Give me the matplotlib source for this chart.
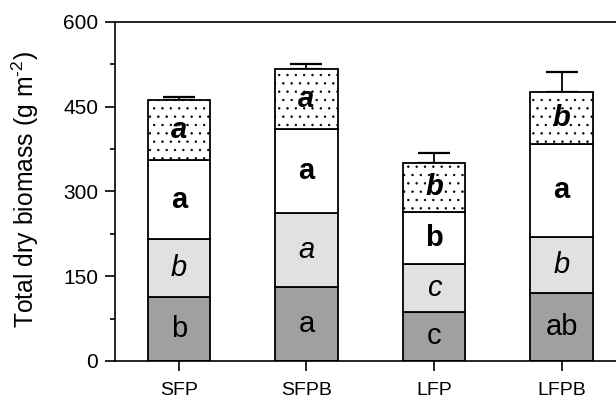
import matplotlib
matplotlib.use("Agg")
import matplotlib.pyplot as plt
import numpy as np

plt.rcParams['font.family'] = ['Liberation Sans', 'DejaVu Sans']
plt.rcParams['hatch.linewidth'] = 0.5
plt.rcParams['mathtext.fontset'] = 'custom'
plt.rcParams['mathtext.rm'] = 'Liberation Sans'

# data (g m-2)
treatments = ["SFP", "SFPB", "LFP", "LFPB"]
seg1 = [114, 131, 87, 120]     # dark grey, bottom
seg2 = [101, 130, 84, 100]     # light grey
seg3 = [140, 150, 93, 164]     # white
seg4 = [106, 105, 87, 91]      # dotted, top
top_err = [6, 10, 16.5, 36]

lab1 = ["b", "a", "c", "ab"]
lab2 = ["b", "a", "c", "b"]
lab3 = ["a", "a", "b", "a"]
lab4 = ["a", "a", "b", "b"]

fig = plt.figure(figsize=(6.16, 4.0), dpi=100)
ax = fig.add_axes([0.1867, 0.0975, 0.8287, 0.848])

x = np.arange(len(treatments))
w = 0.49
segs = [seg1, seg2, seg3, seg4]
colors = ["#a0a0a0", "#e0e1e0", "white", "white"]
hatches = [None, None, None, ".."]
labels = [lab1, lab2, lab3, lab4]
styles = [("normal", "normal"), ("italic", "normal"),
          ("normal", "bold"), ("italic", "bold")]

bottom = np.zeros(len(x))
for vals, col, h, labs, (st, wt) in zip(segs, colors, hatches, labels, styles):
    vals = np.array(vals, dtype=float)
    ax.bar(x, vals, w, bottom=bottom, color=col, edgecolor="black",
           linewidth=1.3, hatch=h, zorder=2)
    for xi, b, v, t in zip(x, bottom, vals, labs):
        ax.text(xi, b + v / 2, t, ha="center", va="center", fontsize=21,
                style=st, weight=wt, zorder=4)
    bottom += vals

ax.errorbar(x, bottom, yerr=[np.zeros(len(x)), top_err], fmt="none",
            ecolor="black", elinewidth=1.3, capsize=11.5, capthick=1.6,
            zorder=1)

ax.set_xlim(-0.5, 3.5)
ax.set_ylim(0, 600)
ax.set_xticks(x)
ax.set_xticklabels(treatments, fontsize=14)
ax.set_yticks([0, 150, 300, 450, 600])
ax.set_yticks([75, 225, 375, 525], minor=True)
ax.tick_params(axis="y", which="major", labelsize=15, length=7, width=1.2, pad=5)
ax.tick_params(axis="y", which="minor", length=3.5, width=1.2)
ax.tick_params(axis="x", length=7, width=1.2, pad=8)
for s in ax.spines.values():
    s.set_linewidth(1.2)

ax.set_ylabel(r"Total dry biomass (g m$^{\text{-2}}$)", fontsize=17.8)
ax.yaxis.set_label_coords(-0.145, 0.505)

fig.savefig("out.png", dpi=100)
